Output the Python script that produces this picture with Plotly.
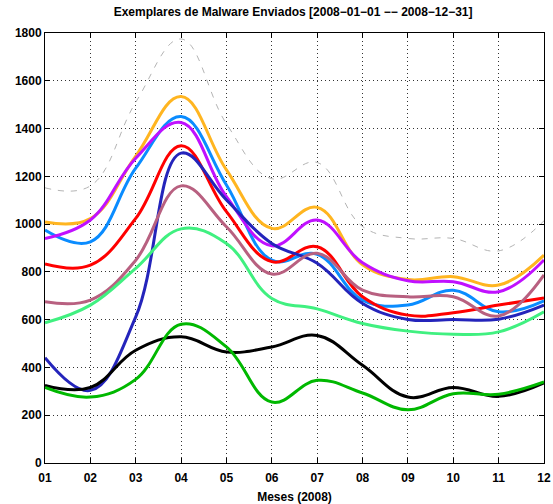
import plotly.graph_objects as go

months = list(range(1, 13))
month_labels = ["01", "02", "03", "04", "05", "06", "07", "08", "09", "10", "11", "12"]

total = [1152, 1160, 1510, 1775, 1420, 1190, 1258, 990, 940, 940, 888, 1014]
gold = [1009, 1023, 1285, 1534, 1227, 982, 1070, 830, 768, 780, 745, 870]
blue = [975, 926, 1234, 1450, 1164, 849, 874, 682, 661, 723, 633, 679]
purple = [940, 1017, 1276, 1425, 1115, 909, 1017, 838, 763, 759, 717, 850]
red = [833, 828, 1024, 1328, 1052, 843, 905, 696, 619, 629, 661, 691]
darkblue = [441, 304, 612, 1297, 1101, 919, 836, 668, 601, 601, 602, 661]
mauve = [675, 682, 849, 1160, 989, 791, 878, 724, 696, 696, 615, 787]
lightgreen = [587, 661, 815, 980, 919, 689, 645, 584, 552, 539, 549, 633]
black = [325, 316, 472, 528, 465, 486, 534, 409, 276, 316, 279, 335]
green = [316, 276, 350, 581, 486, 255, 346, 293, 223, 290, 288, 339]

series = [
    (total, "#b4b4b4", 1, "6px,7px"),
    (gold, "#ffb520", 3, "solid"),
    (blue, "#0a8cff", 3, "solid"),
    (purple, "#c010ff", 3, "solid"),
    (red, "#ff0000", 3, "solid"),
    (darkblue, "#2424bb", 3, "solid"),
    (mauve, "#b86080", 3, "solid"),
    (lightgreen, "#40f080", 3, "solid"),
    (black, "#000000", 3, "solid"),
    (green, "#00b800", 3, "solid"),
]

fig = go.Figure()
for ys, color, w, dash in series:
    fig.add_trace(go.Scatter(
        x=months, y=ys, mode="lines",
        line=dict(color=color, width=w, dash=dash, shape="spline", smoothing=1.15),
        hoverinfo="skip",
    ))

fam = "Liberation Sans, Arial, sans-serif"
font_b = dict(family=fam, size=12, color="black", weight="bold")

fig.update_layout(
    width=553, height=504,
    margin=dict(l=45, r=9, t=33, b=41),
    paper_bgcolor="white", plot_bgcolor="white",
    showlegend=False,
    title=dict(text="<b>Exemplares de Malware Enviados [2008\u221201\u221201 \u2212\u2212 2008\u221212\u221231]</b>",
               x=0.53, xanchor="center", y=0.976, yanchor="middle",
               font=dict(family=fam, size=12, color="black")),
)
fig.update_xaxes(
    range=[1, 12], tickmode="array", tickvals=months, ticktext=month_labels,
    showgrid=True, gridcolor="#333", griddash="1px,3px", gridwidth=1,
    showline=True, linecolor="black", linewidth=1, mirror="allticks",
    ticks="inside", ticklen=5, tickcolor="black", ticklabelstandoff=4,
    tickfont=font_b, zeroline=False, automargin=False,
    title=dict(text="<b>Meses (2008)</b>", font=dict(family=fam, size=12, color="black"), standoff=10),
)
fig.update_yaxes(
    range=[0, 1800], tickmode="linear", tick0=0, dtick=200,
    showgrid=True, gridcolor="#333", griddash="1px,3px", gridwidth=1,
    showline=True, linecolor="black", linewidth=1, mirror="allticks",
    ticks="inside", ticklen=5, tickcolor="black",
    tickfont=font_b, zeroline=False, automargin=False,
)

fig.write_html("out.html", config={"displayModeBar": False},
               post_script="document.body.style.margin='0';document.body.style.overflow='hidden';")
